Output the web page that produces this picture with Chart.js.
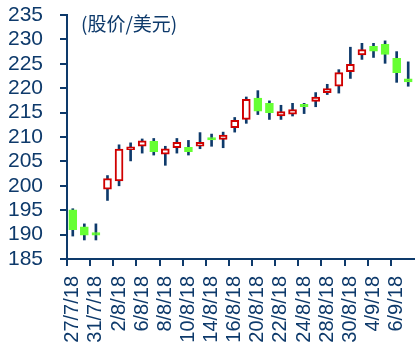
<!DOCTYPE html>
<html>
<head>
<meta charset="utf-8">
<script src="https://cdn.jsdelivr.net/npm/chart.js@4/dist/chart.umd.min.js"></script>
<style>
  html, body { margin: 0; padding: 0; background: #ffffff; }
  #wrap { width: 416px; height: 351px; position: relative; }
</style>
</head>
<body>
<div id="wrap"><canvas id="c" width="416" height="351"></canvas></div>
<script>
const dates = ['27/7/18','30/7/18','31/7/18','1/8/18','2/8/18','3/8/18','6/8/18','7/8/18','8/8/18','9/8/18',
  '10/8/18','13/8/18','14/8/18','15/8/18','16/8/18','17/8/18','20/8/18','21/8/18','22/8/18','23/8/18',
  '24/8/18','27/8/18','28/8/18','29/8/18','30/8/18','31/8/18','4/9/18','5/9/18','6/9/18','7/9/18'];
const openPrice  = [195.1,191.6,190.4,199.3,201.0,207.4,208.1,209.1,206.5,207.8,
  207.9,208.1,209.9,209.5,211.9,213.6,218.0,216.9,214.3,214.7,
  216.7,217.3,219.1,220.4,223.4,226.8,228.6,229.0,226.1,221.9];
const highPrice  = [195.3,192.2,192.2,202.1,208.4,208.8,209.6,209.7,208.1,209.7,
  209.3,210.9,210.6,211.0,214.0,218.2,219.5,217.4,216.5,216.9,
  216.9,219.1,220.8,223.8,228.4,229.2,229.2,229.7,227.5,225.4];
const lowPrice   = [189.7,188.9,188.9,197.0,200.0,205.1,206.7,206.3,204.2,206.7,
  206.3,207.6,208.1,207.8,211.0,212.8,214.6,213.6,213.6,214.3,
  214.8,216.2,218.7,219.0,222.0,225.9,226.3,225.1,221.2,220.4];
const closePrice = [191.0,189.9,189.9,201.5,207.5,208.0,209.2,207.0,207.6,208.9,
  207.0,208.9,209.4,210.4,213.4,217.7,215.3,215.0,215.2,215.6,
  216.2,218.2,219.9,223.2,224.9,227.9,227.6,226.9,223.2,221.3];
const yTicks = [185,190,195,200,205,210,215,220,225,230,235];
const titleText = '(股价/美元)';

const NAVY = '#0E3A6B';
const RED = '#D00000';
const GREEN = '#66FF33';

const bodies = dates.map((d, i) => [openPrice[i], closePrice[i]]);
const wicks = dates.map((d, i) => [lowPrice[i], highPrice[i]]);
const isUp = i => closePrice[i] >= openPrice[i];

const titlePlugin = {
  id: 'titleText',
  afterDraw(chart) {
    const ctx = chart.ctx;
    const a = chart.chartArea;
    ctx.save();
    ctx.font = '19px "Noto Sans CJK SC", "Liberation Sans", sans-serif';
    ctx.fillStyle = NAVY;
    ctx.textAlign = 'left';
    ctx.textBaseline = 'middle';
    ctx.fillText(titleText, a.left + 14, a.top + 9);
    ctx.restore();
  }
};

new Chart(document.getElementById('c'), {
  type: 'bar',
  data: {
    labels: dates,
    datasets: [
      {
        label: 'body',
        data: bodies,
        order: 0,
        grouped: false,
        barThickness: 8,
        backgroundColor: ctx => isUp(ctx.dataIndex) ? '#ffffff' : GREEN,
        borderColor: ctx => isUp(ctx.dataIndex) ? RED : GREEN,
        borderWidth: 2,
        borderSkipped: false
      },
      {
        label: 'wick',
        data: wicks,
        order: 1,
        grouped: false,
        barThickness: 2,
        backgroundColor: NAVY,
        borderWidth: 0
      }
    ]
  },
  options: {
    responsive: false,
    animation: false,
    layout: { padding: { top: 0, right: 2, left: 0, bottom: 0 } },
    plugins: {
      legend: { display: false },
      tooltip: { enabled: false },
      title: { display: false }
    },
    scales: {
      x: {
        offset: true,
        grid: {
          offset: true,
          drawOnChartArea: false,
          drawTicks: true,
          tickLength: 7,
          lineWidth: 2,
          color: ctx => (ctx.index % 2 === 0) ? NAVY : 'rgba(0,0,0,0)',
          tickColor: ctx => (ctx.index % 2 === 0) ? NAVY : 'rgba(0,0,0,0)'
        },
        border: { display: true, color: NAVY, width: 2 },
        ticks: {
          autoSkip: false,
          maxRotation: 90,
          minRotation: 90,
          padding: 10,
          color: NAVY,
          font: { family: '"Liberation Sans", Arial, sans-serif', size: 20 },
          callback: (v, i) => (i % 2 === 0) ? dates[i] : ''
        },
        afterFit: s => { s.height = 92; s.paddingLeft = 0; s.paddingRight = 0; }
      },
      y: {
        min: 185,
        max: 235,
        afterBuildTicks: s => { s.ticks = yTicks.map(v => ({ value: v })); },
        grid: {
          drawOnChartArea: false,
          drawTicks: true,
          tickLength: 7,
          lineWidth: 2,
          color: NAVY,
          tickColor: NAVY
        },
        border: { display: true, color: NAVY, width: 2 },
        ticks: {
          autoSkip: false,
          padding: 17,
          color: NAVY,
          font: { family: '"Liberation Sans", Arial, sans-serif', size: 21 }
        },
        afterFit: s => { s.width = 67; s.paddingTop = 15; s.paddingBottom = 0; }
      }
    }
  },
  plugins: [titlePlugin]
});
</script>
</body>
</html>
